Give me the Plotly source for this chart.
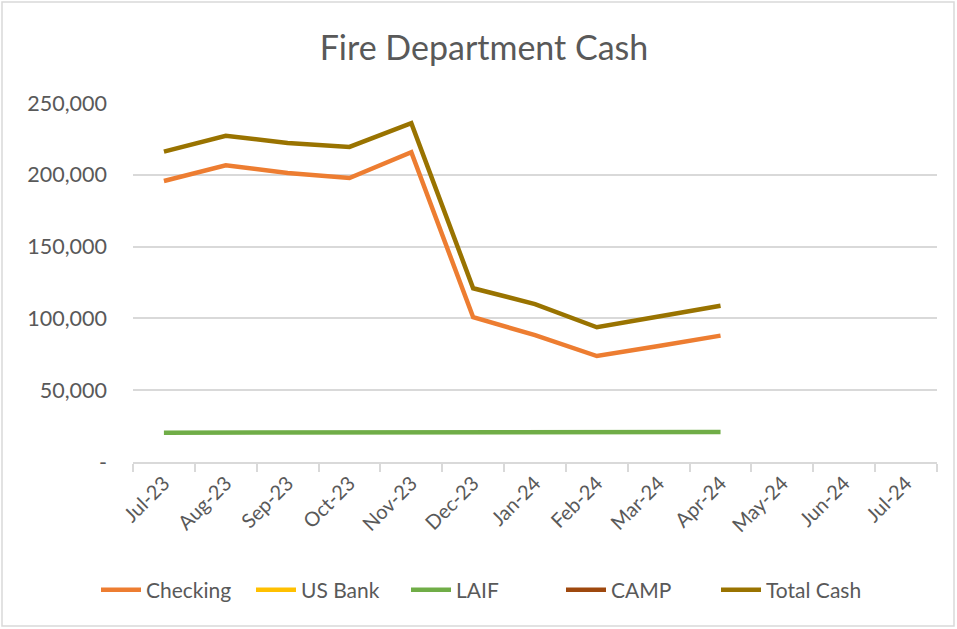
import plotly.graph_objects as go

months = ["Jul-23", "Aug-23", "Sep-23", "Oct-23", "Nov-23", "Dec-23", "Jan-24",
          "Feb-24", "Mar-24", "Apr-24", "May-24", "Jun-24", "Jul-24"]
checking = [195700, 206600, 201300, 197800, 215700, 100800, 88400, 73800, 80800, 88000]
us_bank = [None] * 10
laif = [20400, 20400, 20450, 20500, 20500, 20550, 20650, 20700, 20800, 20900]
camp = [None] * 10
total_cash = [216100, 227200, 222100, 219400, 235900, 121000, 110000, 93800, 101300, 108800]

y_ticks = [0, 50000, 100000, 150000, 200000, 250000]
y_tick_text = ["-", "50,000", "100,000", "150,000", "200,000", "250,000"]

series = [
    ("Checking", checking, "#ED7D31"),
    ("US Bank", us_bank, "#FFC000"),
    ("LAIF", laif, "#70AD47"),
    ("CAMP", camp, "#9E480E"),
    ("Total Cash", total_cash, "#997300"),
]

font_family = "Lato, 'Open Sans', sans-serif"
grey = "#595959"

fig = go.Figure()
for name, vals, color in series:
    fig.add_trace(go.Scatter(
        x=months[:len(vals)], y=vals, name=name, mode="lines",
        line=dict(color=color, width=4.5),
    ))

W, H = 957, 629
ml, mr, mt, mb = 133, 20, 103, 167
pw, ph = W - ml - mr, H - mt - mb

def px_x(p):
    return (p - ml) / pw

def px_y(p):
    return (H - mb - p) / ph

fig.update_layout(
    width=W, height=H,
    margin=dict(l=ml, r=mr, t=mt, b=mb),
    paper_bgcolor="white", plot_bgcolor="white",
    font=dict(family=font_family, color=grey),
    title=dict(text="Fire Department Cash", x=484 / W, xanchor="center",
               y=1 - 48 / H, yanchor="middle",
               xref="container", yref="container",
               font=dict(size=34, color=grey, family=font_family)),
    showlegend=True,
    legend=dict(orientation="h", x=px_x(96), xanchor="left", y=px_y(590), yanchor="middle",
                font=dict(size=21, color=grey), itemwidth=40, traceorder="normal",
                entrywidth=100, entrywidthmode="pixels"),
    xaxis=dict(type="category", categoryorder="array", categoryarray=months,
               range=[-0.5, len(months) - 0.5],
               tickmode="array", tickvals=months, ticktext=months,
               tickangle=-45, tickson="boundaries", ticks="outside", ticklen=8,
               tickcolor="#D9D9D9", tickwidth=1.5,
               showline=True, linecolor="#D9D9D9", linewidth=1.5,
               showgrid=False, tickfont=dict(size=20, color=grey), fixedrange=True),
    yaxis=dict(range=[0, 250000], tickvals=y_ticks, ticktext=y_tick_text,
               showgrid=True, gridcolor="#D9D9D9", gridwidth=1.5,
               zeroline=False, showline=False, ticks="",
               ticklabelstandoff=25,
               tickfont=dict(size=21.5, color=grey), fixedrange=True),
    shapes=[dict(type="rect", xref="paper", yref="paper",
                 x0=px_x(2), x1=px_x(954), y0=px_y(626), y1=px_y(2),
                 line=dict(color="#D9D9D9", width=1.5), fillcolor="rgba(0,0,0,0)",
                 layer="below")],
)

fig.write_html("out.html", config={"displayModeBar": False},
               post_script="document.body.style.margin='0';")
